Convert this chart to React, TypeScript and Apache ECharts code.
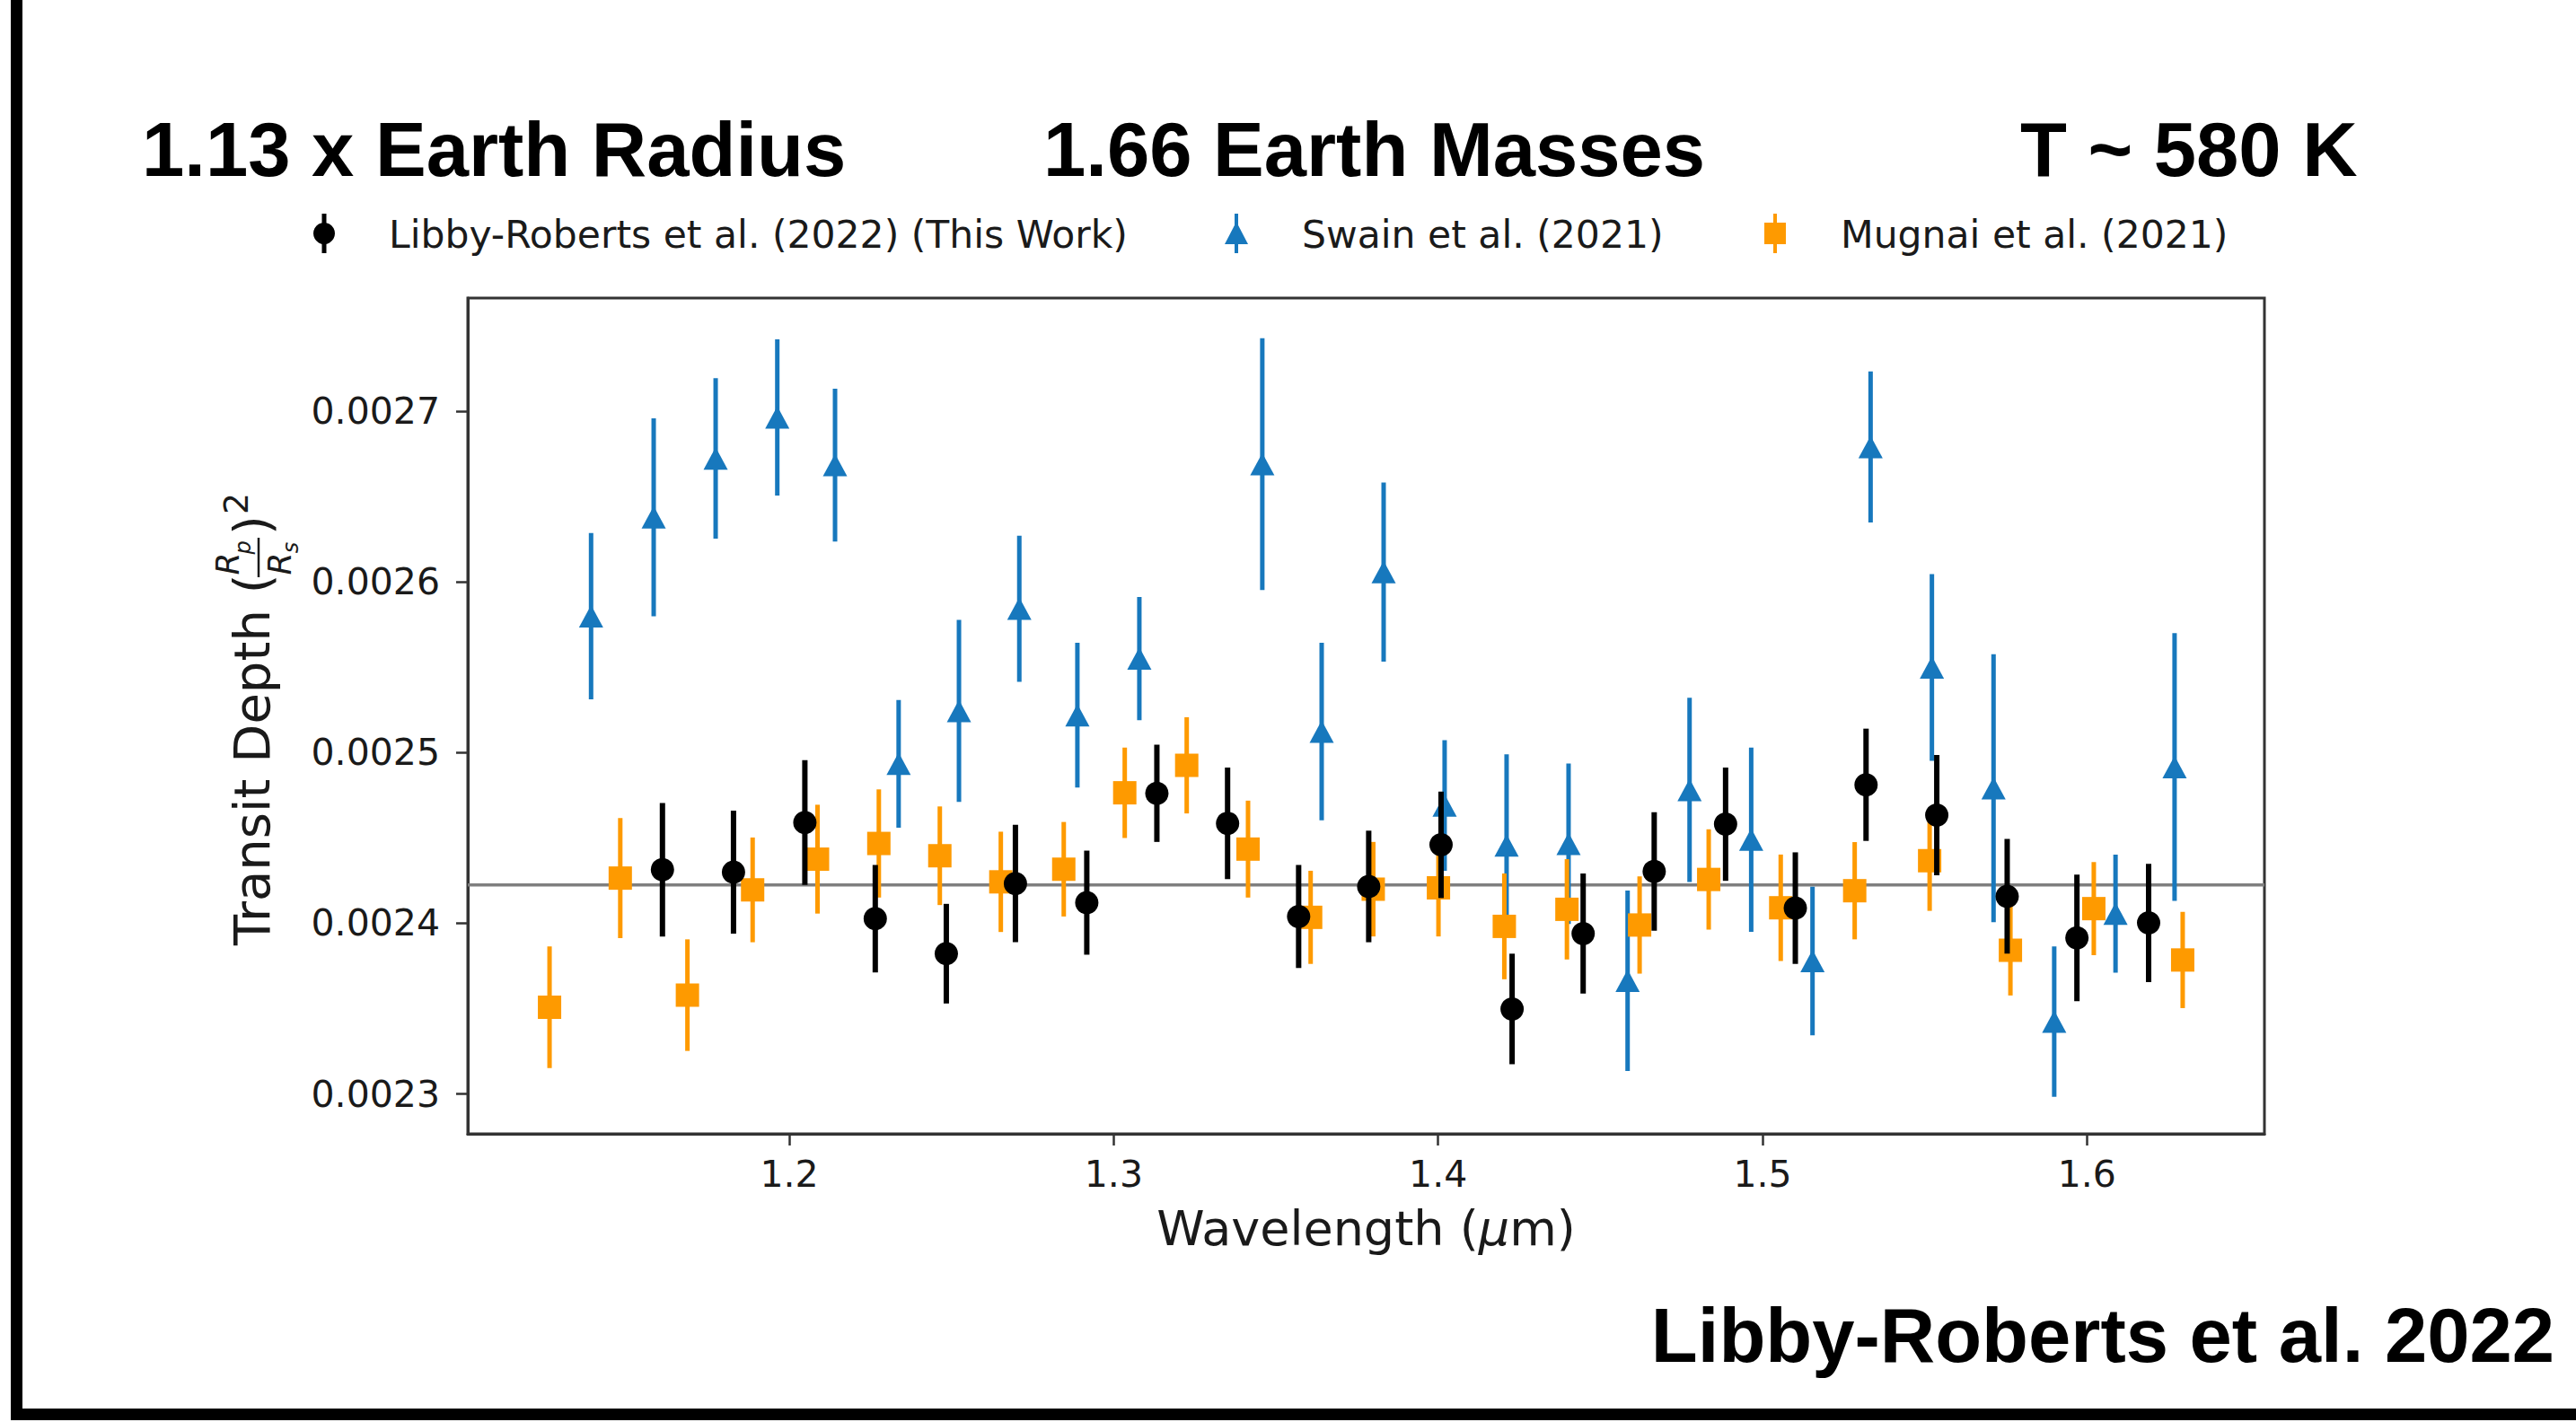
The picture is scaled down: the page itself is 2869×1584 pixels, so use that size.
import React, { useEffect, useRef } from "react";
import * as echarts from "echarts";

const WIDTH = 2869;
const HEIGHT = 1584;

// ---------- data ----------
const libbyWavelength = [1.1609, 1.1828, 1.2048, 1.2265, 1.2484, 1.2697, 1.2917, 1.3133, 1.3351, 1.357, 1.3786, 1.4009, 1.4228, 1.4447, 1.4666, 1.4886, 1.5101, 1.5319, 1.5537, 1.5754, 1.5969, 1.619];
const libbyDepth = [0.0024314, 0.00243, 0.0024591, 0.0024027, 0.0023822, 0.0024233, 0.0024121, 0.0024762, 0.0024586, 0.002404, 0.0024216, 0.002446, 0.0023498, 0.002394, 0.0024304, 0.0024581, 0.0024089, 0.0024812, 0.0024634, 0.0024158, 0.0023915, 0.0024002];
const libbyError = [0.0000391, 0.0000361, 0.0000366, 0.0000315, 0.0000292, 0.0000344, 0.0000305, 0.0000285, 0.0000327, 0.0000302, 0.0000327, 0.0000312, 0.0000324, 0.0000352, 0.0000347, 0.0000332, 0.0000327, 0.0000329, 0.0000352, 0.0000336, 0.0000371, 0.0000347];

const swainWavelength = [1.1389, 1.1582, 1.1773, 1.1963, 1.2141, 1.2337, 1.2523, 1.2709, 1.2888, 1.3079, 1.3458, 1.3641, 1.3832, 1.402, 1.4211, 1.4402, 1.4584, 1.4775, 1.4965, 1.5154, 1.5333, 1.5522, 1.5712, 1.5899, 1.6088, 1.627];
const swainDepth = [0.00258, 0.002638, 0.0026725, 0.0026965, 0.0026686, 0.0024935, 0.0025245, 0.0025844, 0.002522, 0.0025552, 0.0026691, 0.0025124, 0.0026059, 0.0024691, 0.0024456, 0.0024466, 0.0023663, 0.0024782, 0.002449, 0.0023779, 0.0026792, 0.00255, 0.0024792, 0.0023424, 0.0024057, 0.0024916];
const swainError = [0.0000487, 0.000058, 0.000047, 0.0000458, 0.0000448, 0.0000374, 0.0000534, 0.0000428, 0.0000424, 0.0000361, 0.0000738, 0.000052, 0.0000525, 0.0000383, 0.0000534, 0.000047, 0.0000529, 0.000054, 0.000054, 0.0000436, 0.0000443, 0.0000547, 0.0000785, 0.0000441, 0.0000346, 0.0000785];

const mugnaiWavelength = [1.1261, 1.1479, 1.1686, 1.1887, 1.2087, 1.2276, 1.2464, 1.2652, 1.2846, 1.3034, 1.3225, 1.3414, 1.3607, 1.38, 1.4001, 1.4204, 1.4397, 1.4621, 1.4834, 1.5056, 1.5284, 1.5515, 1.5764, 1.6021, 1.6295];
const mugnaiDepth = [0.0023508, 0.0024265, 0.0023579, 0.0024196, 0.0024376, 0.0024468, 0.0024396, 0.0024243, 0.0024317, 0.0024765, 0.0024926, 0.0024435, 0.0024035, 0.00242, 0.0024208, 0.0023982, 0.0024082, 0.002399, 0.0024257, 0.0024091, 0.0024191, 0.0024367, 0.0023842, 0.0024086, 0.0023785];
const mugnaiError = [0.0000357, 0.0000352, 0.0000327, 0.0000307, 0.0000319, 0.0000317, 0.0000289, 0.0000294, 0.0000277, 0.0000265, 0.0000282, 0.0000284, 0.0000273, 0.0000277, 0.0000285, 0.000031, 0.0000294, 0.0000285, 0.0000294, 0.0000312, 0.0000285, 0.0000294, 0.0000265, 0.0000273, 0.0000282];

const referenceDepth = 0.0024225;

const xTicks = [1.2, 1.3, 1.4, 1.5, 1.6];
const yTicks = [0.0023, 0.0024, 0.0025, 0.0026, 0.0027];
const xRange = [1.1009, 1.6547];
const yRange = [0.0022766, 0.0027665];

const seriesNames = ["Libby-Roberts et al. (2022) (This Work)", "Swain et al. (2021)", "Mugnai et al. (2021)"];
const headline = ["1.13 x Earth Radius", "1.66 Earth Masses", "T ~ 580 K"];
const credit = "Libby-Roberts et al. 2022";

// ---------- styles ----------
const BLACK = "#000000";
const BLUE = "#1778bd";
const ORANGE = "#fe9a00";
const AXIS = "#333333";
const TEXT = "#1a1a1a";
const MPL_FONT = "DejaVu Sans";
const HEAD_FONT = "Liberation Sans";

const GRID = { left: 521, top: 332, width: 2001, height: 931 };

function errorSeries(name: string, xs: number[], ys: number[], es: number[], color: string, width: number, z: number) {
  return {
    name,
    type: "custom",
    z,
    silent: true,
    data: xs.map((x, i) => [x, ys[i], es[i]]),
    encode: { x: 0, y: 1 },
    renderItem: (params: any, api: any) => {
      const x = api.value(0);
      const y = api.value(1);
      const e = api.value(2);
      const p1 = api.coord([x, y - e]);
      const p2 = api.coord([x, y + e]);
      return {
        type: "line",
        shape: { x1: p1[0], y1: p1[1], x2: p2[0], y2: p2[1] },
        style: { stroke: color, lineWidth: width, lineCap: "butt" },
      };
    },
  };
}

function markerSeries(name: string, xs: number[], ys: number[], symbol: string, size: any, color: string, z: number) {
  return {
    name,
    type: "scatter",
    z,
    silent: true,
    symbol,
    symbolSize: size,
    itemStyle: { color, opacity: 1 },
    data: xs.map((x, i) => [x, ys[i]]),
  };
}

function txt(text: string, x: number, y: number, fontSize: number, opts: any = {}) {
  const align = opts.align || "left";
  const valign = opts.verticalAlign || "middle";
  return {
    type: "text",
    x,
    y,
    z: 100,
    silent: true,
    style: {
      text,
      fontSize,
      fontFamily: opts.fontFamily || MPL_FONT,
      fontWeight: opts.fontWeight || "normal",
      fontStyle: opts.fontStyle || "normal",
      fill: opts.fill || TEXT,
      align,
      verticalAlign: valign,
      textAlign: align,
      textVerticalAlign: valign,
    },
  };
}

function buildGraphic() {
  const g: any[] = [];
  // outer frame (left and bottom bars)
  g.push({ type: "rect", shape: { x: 12, y: 0, width: 13, height: 1582 }, style: { fill: "#000" }, silent: true });
  g.push({ type: "rect", shape: { x: 12, y: 1569, width: WIDTH - 12, height: 13 }, style: { fill: "#000" }, silent: true });

  // headline
  g.push(txt(headline[0], 158, 166, 85, { fontFamily: HEAD_FONT, fontWeight: "bold", fill: "#000" }));
  g.push(txt(headline[1], 1162, 166, 85, { fontFamily: HEAD_FONT, fontWeight: "bold", fill: "#000" }));
  g.push(txt(headline[2], 2250, 166, 85, { fontFamily: HEAD_FONT, fontWeight: "bold", fill: "#000" }));
  // credit
  g.push(txt(credit, 2845, 1487, 85, { fontFamily: HEAD_FONT, fontWeight: "bold", fill: "#000", align: "right" }));

  // legend
  const ly = 260;
  // black
  g.push({ type: "line", shape: { x1: 361, y1: 238, x2: 361, y2: 282 }, style: { stroke: BLACK, lineWidth: 5 }, silent: true });
  g.push({ type: "circle", shape: { cx: 361, cy: ly, r: 12 }, style: { fill: BLACK }, silent: true });
  g.push(txt(seriesNames[0], 433, ly + 1, 42.5));
  // blue
  g.push({ type: "line", shape: { x1: 1377, y1: 238, x2: 1377, y2: 282 }, style: { stroke: BLUE, lineWidth: 4 }, silent: true });
  g.push({ type: "polygon", shape: { points: [[1377, 247], [1364, 272], [1390, 272]] }, style: { fill: BLUE }, silent: true });
  g.push(txt(seriesNames[1], 1450, ly + 1, 42.5));
  // orange
  g.push({ type: "line", shape: { x1: 1977, y1: 238, x2: 1977, y2: 282 }, style: { stroke: ORANGE, lineWidth: 4 }, silent: true });
  g.push({ type: "rect", shape: { x: 1965, y: 248, width: 24, height: 24 }, style: { fill: ORANGE }, silent: true });
  g.push(txt(seriesNames[2], 2050, ly + 1, 42.5));

  // y-axis label: Transit Depth (Rp/Rs)^2, rotated
  g.push({
    type: "group",
    x: 280,
    y: 1053,
    rotation: Math.PI / 2,
    silent: true,
    children: [
      txt("Transit Depth (", 0, 0, 56),
      { type: "line", shape: { x1: 410, y1: 8, x2: 454, y2: 8 }, style: { stroke: TEXT, lineWidth: 2.5 } },
      txt("R", 425, -27, 36, { align: "center", fontStyle: "italic" }),
      txt("p", 443, -9, 24, { align: "center", fontStyle: "italic" }),
      txt("R", 425, 31, 36, { align: "center", fontStyle: "italic" }),
      txt("s", 443, 44, 24, { align: "center", fontStyle: "italic" }),
      txt(")", 457, 0, 56),
      txt("2", 480, -17, 38),
    ],
  });
  return g;
}

export default function App() {
  const ref = useRef<HTMLDivElement | null>(null);

  useEffect(() => {
    if (!ref.current) return;
    const chart = echarts.init(ref.current, undefined, { renderer: "svg", width: WIDTH, height: HEIGHT });

    const option: any = {
      animation: false,
      backgroundColor: "#ffffff",
      grid: { ...GRID, show: true, borderColor: AXIS, borderWidth: 3, backgroundColor: "transparent", containLabel: false },
      xAxis: {
        type: "value",
        min: xRange[0],
        max: xRange[1],
        splitLine: { show: false },
        axisLine: { show: true, lineStyle: { color: AXIS, width: 3 } },
        axisTick: { show: true, inside: false, length: 13, lineStyle: { color: AXIS, width: 2.5 }, customValues: xTicks },
        axisLabel: {
          show: true,
          customValues: xTicks,
          margin: 24,
          fontSize: 41,
          fontFamily: MPL_FONT,
          color: TEXT,
          formatter: (v: number) => v.toFixed(1),
        },
        name: "Wavelength ({i|μ}m)",
        nameLocation: "middle",
        nameGap: 78,
        nameTextStyle: {
          fontSize: 54,
          fontFamily: MPL_FONT,
          color: TEXT,
          rich: { i: { fontSize: 54, fontFamily: MPL_FONT, fontStyle: "italic", color: TEXT } },
        },
      },
      yAxis: {
        type: "value",
        min: yRange[0],
        max: yRange[1],
        splitLine: { show: false },
        axisLine: { show: true, lineStyle: { color: AXIS, width: 3 } },
        axisTick: { show: true, inside: false, length: 13, lineStyle: { color: AXIS, width: 2.5 }, customValues: yTicks },
        axisLabel: {
          show: true,
          customValues: yTicks,
          margin: 31,
          fontSize: 41,
          fontFamily: MPL_FONT,
          color: TEXT,
          formatter: (v: number) => v.toFixed(4),
        },
      },
      series: [
        {
          name: "reference",
          type: "line",
          z: 1,
          silent: true,
          showSymbol: false,
          symbol: "none",
          lineStyle: { color: "#7f7f7f", width: 3.5 },
          data: [
            [xRange[0], referenceDepth],
            [xRange[1], referenceDepth],
          ],
        },
        errorSeries(seriesNames[1] + " err", swainWavelength, swainDepth, swainError, BLUE, 5, 2),
        markerSeries(seriesNames[1], swainWavelength, swainDepth, "triangle", [27, 25], BLUE, 3),
        errorSeries(seriesNames[2] + " err", mugnaiWavelength, mugnaiDepth, mugnaiError, ORANGE, 5, 4),
        markerSeries(seriesNames[2], mugnaiWavelength, mugnaiDepth, "rect", [26, 26], ORANGE, 5),
        errorSeries(seriesNames[0] + " err", libbyWavelength, libbyDepth, libbyError, BLACK, 6, 6),
        markerSeries(seriesNames[0], libbyWavelength, libbyDepth, "circle", 26, BLACK, 7),
      ],
      graphic: buildGraphic(),
    };

    chart.setOption(option);
    return () => {
      chart.dispose();
    };
  }, []);

  return (
    <div
      ref={ref}
      style={{ position: "absolute", left: 0, top: 0, width: WIDTH, height: HEIGHT, background: "#ffffff" }}
    />
  );
}
